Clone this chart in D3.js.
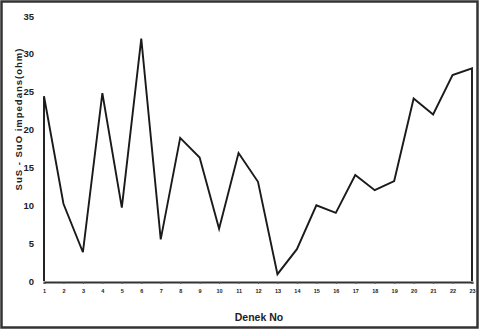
<!DOCTYPE html>
<html><head><meta charset="utf-8">
<script src="https://cdn.jsdelivr.net/npm/d3@7"></script>
<style>body{margin:0;background:#fff}svg{display:block}</style>
</head><body>
<svg id="c" width="480" height="330"></svg>
<script>
const categories = d3.range(1, 24);
const values = [24.4, 10.2, 3.8, 24.8, 9.7, 32.0, 5.5, 18.9, 16.3, 6.9, 16.9, 13.1, 0.9, 4.2, 10.0, 9.0, 14.0, 12.0, 13.2, 24.1, 22.0, 27.2, 28.1];
const yTicks = [0, 5, 10, 15, 20, 25, 30, 35];
const xTitle = "Denek No";
const yTitle = "SuS - SuO impedans(ohm)";

const svg = d3.select("#c");
svg.append("rect").attr("x",1.5).attr("y",1.5).attr("width",476).attr("height",326)
  .attr("fill","#fff").attr("stroke","#333").attr("stroke-width",2.5);

const x = d3.scaleLinear().domain([1,23]).range([44,472]);
const y = d3.scaleLinear().domain([0,35]).range([281,16]);

// x axis
const xa = svg.append("g").attr("transform","translate(0,282)")
  .call(d3.axisBottom(x).tickValues(categories).tickSize(2).tickPadding(5).tickFormat(d3.format("d")));
xa.select(".domain").attr("stroke","#333").attr("stroke-width",2);
xa.selectAll(".tick line").attr("stroke","#555");
xa.selectAll("text").attr("font-family","Liberation Sans, Arial, sans-serif").attr("font-size",5.5).attr("font-weight","bold").attr("fill","#222");

// y axis labels
const ya = svg.append("g").attr("transform","translate(34,0)")
  .call(d3.axisLeft(y).tickValues(yTicks).tickSize(0).tickPadding(0));
ya.select(".domain").remove();
ya.selectAll("text").attr("font-family","Liberation Sans, Arial, sans-serif").attr("font-size",9.5).attr("font-weight","bold").attr("fill","#222");

// area outline
const pts = categories.map((c,i)=>[x(c), y(values[i])]);
const path = [[x(1), y(0)], ...pts, [x(23), y(0)]];
svg.append("path").attr("d", d3.line()(path)).attr("fill","none")
  .attr("stroke","#1a1a1a").attr("stroke-width",1.9).attr("stroke-linejoin","miter");

svg.append("text").attr("x",259).attr("y",321).attr("text-anchor","middle")
  .attr("font-family","Liberation Sans, Arial, sans-serif").attr("font-size",10.5).attr("font-weight","bold").attr("fill","#222").text(xTitle);
svg.append("text").attr("transform","translate(21.5,119) rotate(-90)").attr("text-anchor","middle")
  .attr("font-family","Liberation Sans, Arial, sans-serif").attr("font-size",9.5).attr("letter-spacing",1).attr("font-weight","bold").attr("fill","#222").text(yTitle);
</script>
</body></html>
